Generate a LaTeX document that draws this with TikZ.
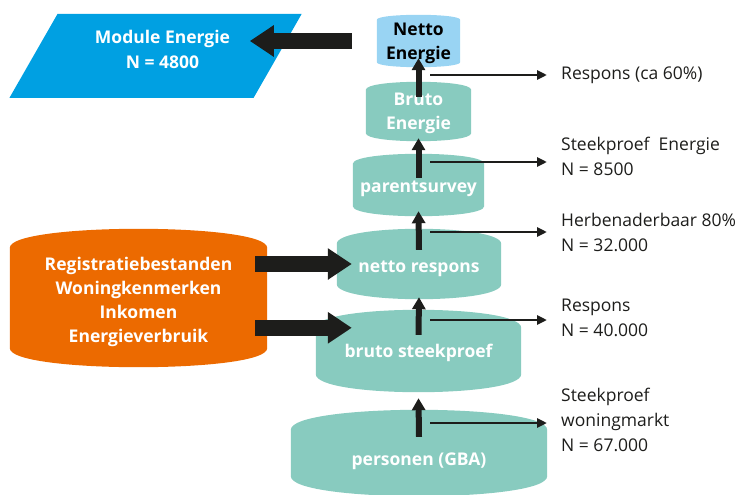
\documentclass[tikz,border=0pt]{standalone}
\usepackage{fontspec}
\setmainfont{Open Sans}
\usetikzlibrary{arrows.meta,shapes.geometric,backgrounds}
\definecolor{cbsteal}{RGB}{136,203,191}
\definecolor{cbslight}{RGB}{153,212,243}
\definecolor{cbsblue}{RGB}{0,160,226}
\definecolor{cbsorange}{RGB}{236,106,0}
\definecolor{cbsblack}{RGB}{29,29,27}

\begin{document}
\begin{tikzpicture}[x=1pt,y=-1pt,
    barrel/.style={rectangle, inner sep=0pt, text=white, align=center, text depth=0pt,
        font=\fontsize{17.5}{24}\selectfont\bfseries},
    bigarrow/.style={cbsblack, line width=16pt, -{Triangle[width=30pt,length=24pt]}},
    uparrow/.style={cbsblack, line width=6pt, -{Triangle[width=13pt,length=12pt]}},
    outarrow/.style={cbsblack, line width=2.5pt, -{Triangle[width=9pt,length=10pt]}},
    outlabel/.style={anchor=west, align=left, inner sep=0pt, text=cbsblack,
        font=\fontsize{17.5}{25}\selectfont}]
    \useasboundingbox (0,0) rectangle (753,495);

    % the barrels, bottom to top
    \node[barrel, text=black, minimum width=83pt, minimum height=42pt] (nettoE) at (418.5,41) {Netto\\Energie};
    \node[barrel, minimum width=105pt, minimum height=43pt] (brutoE) at (418.5,111.5) {Bruto\\Energie};
    \node[barrel, text height=14.5pt, minimum width=131pt, minimum height=42pt] (parent) at (418.5,185) {parentsurvey};
    \node[barrel, text height=16.5pt, minimum width=164pt, minimum height=40pt] (nettoR) at (419,264) {netto respons};
    \node[barrel, text height=12.5pt, minimum width=205pt, minimum height=46pt] (brutoS) at (418.5,351) {bruto steekproef};
    \node[barrel, text height=25pt, minimum width=256pt, minimum height=46pt] (personen) at (419,453) {personen (GBA)};
    \node[barrel, text height=89pt, minimum width=257pt, minimum height=100pt] (reg) at (138.5,298)
        {Registratiebestanden\\Woningkenmerken\\Inkomen\\Energieverbruik};

    \node[trapezium, trapezium left angle=55, trapezium right angle=125, trapezium stretches=true,
        fill=cbsblue, text=white, minimum width=293pt, minimum height=84pt, inner sep=0pt,
        text depth=14pt, align=center, font=\fontsize{17.5}{25}\selectfont\bfseries]
        (module) at (155.5,56) {\hspace*{14pt}Module Energie\\\hspace*{14pt}N = 4800};

    \begin{scope}[on background layer]
        \foreach \n/\col/\r in {nettoE/cbslight/5, brutoE/cbsteal/8, parent/cbsteal/10,
                nettoR/cbsteal/15, brutoS/cbsteal/18, personen/cbsteal/20, reg/cbsorange/19} {
            \fill[\col] (\n.north west) .. controls +(0,-4*\r/3) and +(0,-4*\r/3) .. (\n.north east)
                -- (\n.south east) .. controls +(0,4*\r/3) and +(0,4*\r/3) .. (\n.south west) -- cycle;
        }
    \end{scope}

    % upward flow
    \foreach \lo/\up/\a/\b in {personen/brutoS/7/24, brutoS/nettoR/7/13, nettoR/parent/6/5,
            parent/brutoE/14/5, brutoE/nettoE/7/-4}
        \draw[uparrow] ([yshift=-\a pt]\lo.north) -- ([yshift=-\b pt]\up.south);

    % thick arrows
    \draw[bigarrow] ([xshift=-25pt]nettoE.west) -- ([xshift=-28pt]module.east |- nettoE.west);
    \draw[bigarrow] ([xshift=-12pt]reg.east |- nettoR.west) -- ([xshift=15pt]nettoR.west);
    \draw[bigarrow] ([xshift=-12pt]reg.east |- brutoS.north) -- ([xshift=36pt]brutoS.north west);

    % side labels
    \node[outlabel] (l1) at (561,75) {Respons (ca 60\%)};
    \node[outlabel] (l2) at (561,156) {Steekproef~ Energie\\N = 8500};
    \node[outlabel] (l3) at (561,232.5) {Herbenaderbaar 80\%\\N = 32.000};
    \node[outlabel] (l4) at (561,317.5) {Respons\\N = 40.000};
    \node[outlabel] (l5) at (561,419.5) {Steekproef\\woningmarkt\\N = 67.000};
    \coordinate (o1) at (430,75);
    \coordinate (o2) at (430,162);
    \coordinate (o3) at (430,232);
    \coordinate (o4) at (430,320);
    \coordinate (o5) at (430,423);
    \foreach \i in {1,...,5}
        \draw[outarrow] (o\i) -- ([xshift=-14pt]l\i.west |- o\i);
\end{tikzpicture}
\end{document}
